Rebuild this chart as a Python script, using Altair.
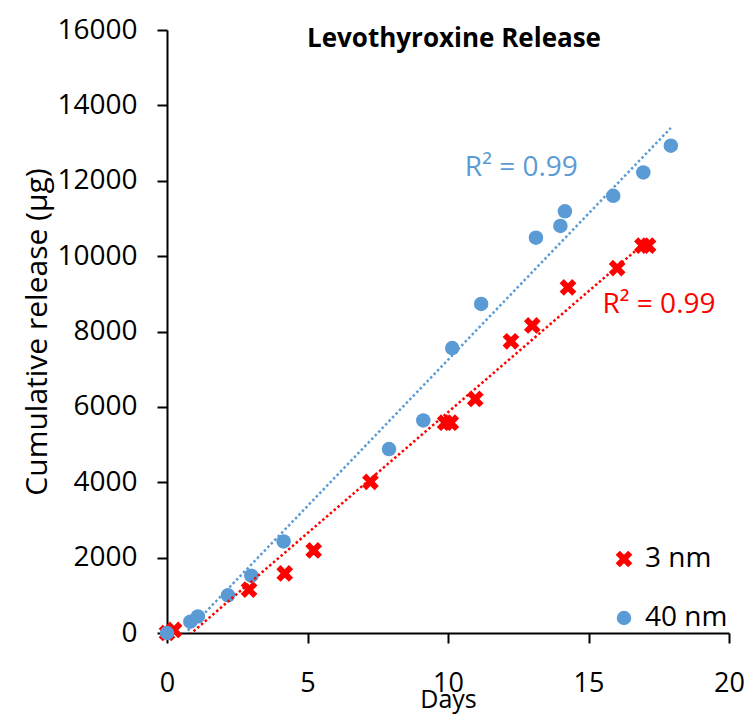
import altair as alt
import pandas as pd

# ---- data ----
days_3nm = [0, 0.25, 2.92, 4.19, 5.22, 7.24, 9.9, 10.1, 10.97, 12.24, 13.0, 14.27, 16.02, 16.92, 17.12]
rel_3nm = [0, 80, 1150, 1580, 2190, 4010, 5580, 5580, 6210, 7740, 8160, 9170, 9680, 10280, 10280]

days_40nm = [0, 0.83, 1.1, 2.17, 3.0, 4.15, 7.9, 9.12, 10.15, 11.18, 13.13, 14.0, 14.16, 15.88, 16.95, 17.93]
rel_40nm = [0, 300, 440, 1000, 1520, 2430, 4880, 5640, 7560, 8730, 10490, 10800, 11190, 11600, 12220, 12930]

series_names = ["3 nm", "40 nm"]
series_colors = ["#FF0000", "#5B9BD5"]

r2_labels = ["R² = 0.99", "R² = 0.99"]
r2_days = [10.6, 15.5]
r2_values = [12340, 8700]
r2_series = ["40 nm", "3 nm"]

x_ticks = [0, 5, 10, 15, 20]
y_ticks = [0, 2000, 4000, 6000, 8000, 10000, 12000, 14000, 16000]

FONT = "Open Sans"
X_PATH = ("M-1,-0.5L-0.5,-1L0,-0.5L0.5,-1L1,-0.5L0.5,0L1,0.5L0.5,1"
          "L0,0.5L-0.5,1L-1,0.5L-0.5,0Z")

df = pd.concat([
    pd.DataFrame({"Days": days_3nm, "Release": rel_3nm, "Series": "3 nm"}),
    pd.DataFrame({"Days": days_40nm, "Release": rel_40nm, "Series": "40 nm"}),
], ignore_index=True)

ann = pd.DataFrame({"Days": r2_days, "Release": r2_values, "Label": r2_labels, "Series": r2_series})

xscale = alt.Scale(domain=[0, 20], nice=False)
yscale = alt.Scale(domain=[0, 16000], nice=False)
color_scale = alt.Scale(domain=series_names, range=series_colors)
shape_scale = alt.Scale(domain=series_names, range=[X_PATH, "circle"])

x_enc = alt.X("Days:Q", scale=xscale, title="Days",
              axis=alt.Axis(values=x_ticks, format="d", grid=False, labelFlush=False,
                            labelFontSize=27, titleFontSize=25,
                            labelPadding=27, titlePadding=-9))
y_enc = alt.Y("Release:Q", scale=yscale, title="Cumulative release (µg)",
              axis=alt.Axis(values=y_ticks, format="d", grid=False, labelFlush=False,
                            labelFontSize=28, titleFontSize=30,
                            labelPadding=20, titlePadding=4))

base = alt.Chart(df)

points = base.mark_point(filled=True, opacity=1, size=210).encode(
    x=x_enc,
    y=y_enc,
    color=alt.Color("Series:N", scale=color_scale,
                    legend=alt.Legend(title=None, orient="none", legendX=443, legendY=515,
                                      labelFontSize=28, labelFont=FONT, labelColor="#000000",
                                      symbolSize=225, symbolStrokeWidth=0,
                                      rowPadding=31, labelOffset=7)),
    shape=alt.Shape("Series:N", scale=shape_scale, legend=None),
    size=alt.Size("Series:N", scale=alt.Scale(domain=series_names, range=[280, 210]), legend=None),
    order=alt.Order("Series:N", sort="ascending"),
)

trend = base.transform_regression("Days", "Release", groupby=["Series"]).mark_line(
    strokeDash=[2.5, 2.5], strokeWidth=2.5, clip=True
).encode(
    x=alt.X("Days:Q", scale=xscale),
    y=alt.Y("Release:Q", scale=yscale),
    color=alt.Color("Series:N", scale=color_scale, legend=None),
    detail="Series:N",
)

labels = alt.Chart(ann).mark_text(align="left", baseline="middle", font=FONT, fontSize=28).encode(
    x=alt.X("Days:Q", scale=xscale),
    y=alt.Y("Release:Q", scale=yscale),
    text="Label:N",
    color=alt.Color("Series:N", scale=color_scale, legend=None),
)

chart = alt.layer(points, trend, labels).resolve_scale(color="shared").properties(
    width=562,
    height=603,
    padding={"left": 159, "top": 22, "right": 17, "bottom": 84},
    autosize=alt.AutoSizeParams(type="none"),
    title=alt.TitleParams("Levothyroxine Release", font=FONT, fontSize=26,
                          fontWeight="bold", anchor="middle", offset=-36, dx=6,
                          color="#000000"),
).configure_view(stroke=None).configure_axis(
    labelFont=FONT, titleFont=FONT, labelColor="#000000", titleColor="#000000",
    titleFontWeight="normal", domainColor="#000000", tickColor="#000000",
    domainWidth=2, tickWidth=2, tickSize=10,
)

chart.save("out.html", embed_options={"renderer": "svg", "actions": False})
